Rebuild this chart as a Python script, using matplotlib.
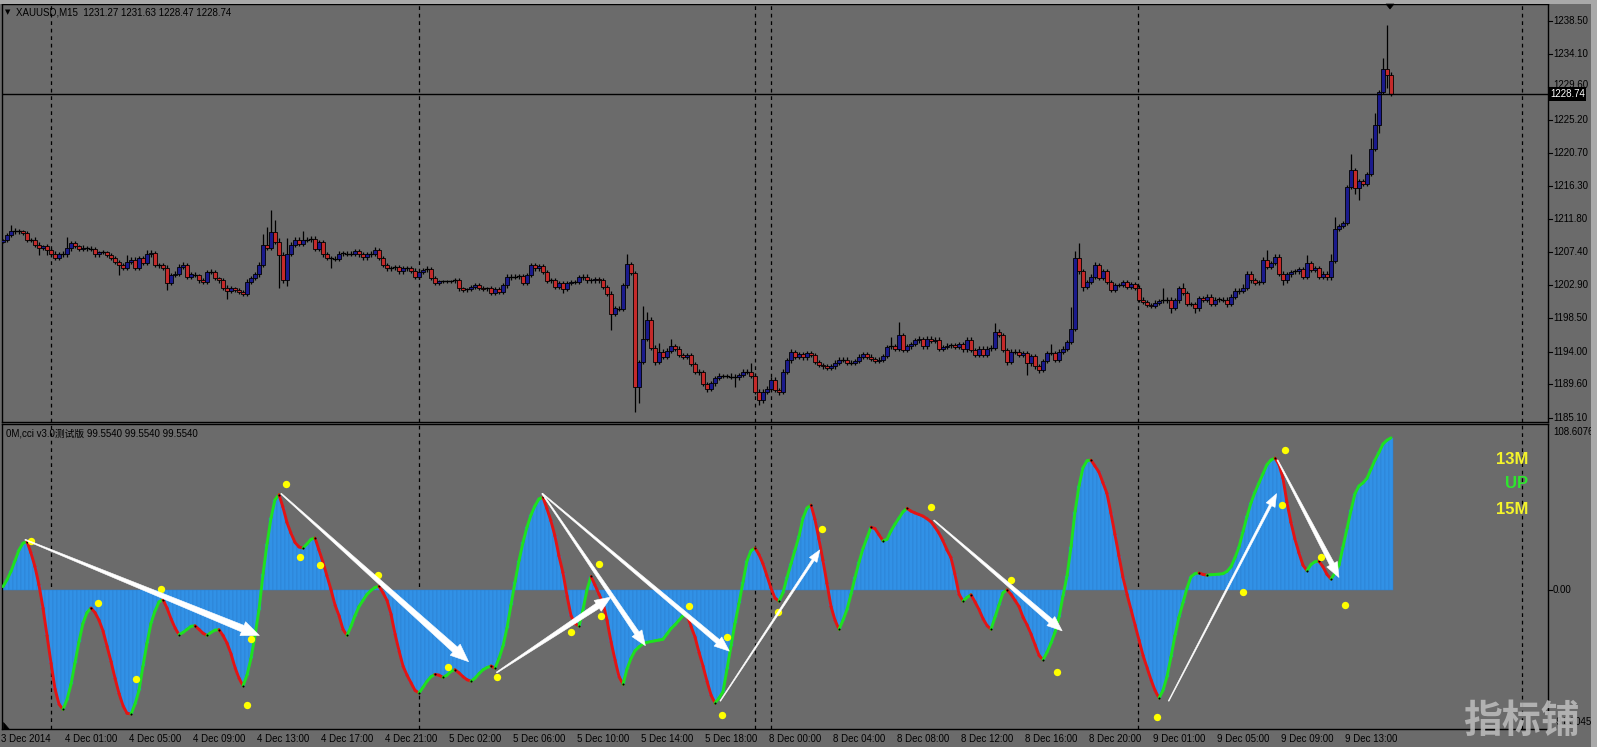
import numpy as np
import matplotlib
matplotlib.use('Agg')
import matplotlib.pyplot as plt
from matplotlib.patches import Rectangle, Polygon
from matplotlib.collections import LineCollection
from matplotlib.transforms import IdentityTransform, blended_transform_factory

# ---------------- data ----------------
OPEN0 = 1208.8
CLOSE = [
1209.0,1209.7,1210.3,1210.2,1210.2,1210.0,1209.0,1209.1,1208.4,1208.0,
1208.2,1207.7,1207.2,1206.6,1207.2,1207.1,1207.9,1208.6,1208.2,1207.8,
1208.0,1207.9,1207.8,1207.1,1207.4,1207.4,1207.0,1206.6,1206.1,1205.6,
1205.3,1206.1,1206.4,1205.3,1206.6,1205.9,1207.1,1207.3,1205.7,1205.6,
1205.3,1203.3,1204.3,1204.5,1205.4,1205.7,1204.1,1204.4,1204.3,1203.6,
1203.4,1204.7,1204.7,1203.9,1203.6,1202.6,1202.2,1202.5,1202.3,1202.0,
1201.8,1203.4,1203.9,1204.4,1205.7,1208.4,1208.0,1210.1,1208.8,1207.0,
1203.6,1207.2,1208.4,1209.0,1208.5,1209.0,1209.1,1209.2,1207.8,1208.8,
1207.1,1206.6,1206.6,1206.5,1207.2,1207.3,1207.2,1207.2,1207.5,1207.1,
1206.7,1207.1,1207.2,1207.7,1206.6,1205.7,1205.2,1205.3,1205.4,1204.8,
1205.2,1205.2,1204.9,1204.1,1204.7,1205.0,1205.1,1203.9,1203.3,1203.5,
1203.5,1203.5,1203.5,1203.6,1202.5,1202.3,1202.4,1202.7,1203.0,1202.6,
1202.4,1202.5,1201.9,1202.4,1202.0,1202.9,1204.0,1204.1,1204.1,1204.2,
1203.2,1204.3,1205.6,1205.2,1205.5,1204.7,1203.5,1203.6,1202.7,1203.2,
1202.4,1203.2,1203.4,1203.4,1204.0,1204.1,1203.6,1203.6,1203.8,1203.6,
1202.7,1201.8,1199.1,1199.8,1199.7,1202.9,1205.8,1204.6,1189.2,1192.6,
1195.7,1198.2,1194.5,1192.6,1194.0,1193.3,1194.1,1194.7,1194.4,1193.5,
1193.3,1193.5,1192.3,1191.3,1191.2,1189.6,1189.0,1189.7,1190.4,1190.7,
1190.7,1190.7,1190.6,1190.5,1190.8,1191.3,1191.3,1190.7,1188.6,1187.4,
1188.6,1189.0,1190.2,1188.8,1188.6,1191.3,1192.8,1193.9,1193.3,1193.6,
1193.2,1193.8,1193.5,1192.6,1192.2,1192.0,1191.8,1192.0,1192.5,1192.9,
1192.9,1192.5,1192.5,1192.7,1193.3,1193.6,1193.3,1193.0,1192.7,1192.9,
1193.4,1194.6,1194.7,1194.4,1196.2,1194.2,1194.7,1195.0,1195.5,1195.7,
1194.7,1195.7,1195.4,1195.6,1194.4,1194.6,1194.8,1194.9,1194.6,1195.0,
1194.3,1195.6,1194.2,1193.5,1194.4,1193.5,1194.4,1194.5,1196.6,1196.2,
1194.2,1192.6,1194.0,1194.0,1193.5,1193.8,1192.4,1193.4,1192.0,1191.5,
1192.7,1193.8,1193.8,1192.9,1194.0,1194.4,1195.3,1197.0,1206.6,1204.8,
1202.7,1203.4,1204.1,1205.7,1203.9,1204.8,1203.4,1202.3,1203.0,1203.0,
1203.4,1202.7,1203.1,1202.6,1201.0,1200.7,1200.3,1200.1,1200.6,1200.8,
1200.9,1201.0,1199.9,1200.9,1202.5,1201.9,1200.4,1200.4,1199.8,1201.2,
1201.0,1201.4,1200.4,1201.0,1201.1,1201.0,1200.4,1201.4,1202.1,1202.2,
1202.6,1204.5,1203.6,1203.3,1203.4,1206.4,1205.4,1205.9,1206.8,1204.5,
1203.6,1204.4,1204.7,1204.8,1205.1,1204.1,1205.9,1205.0,1205.2,1204.1,
1204.5,1204.0,1206.2,1210.5,1210.9,1211.3,1216.2,1218.5,1216.0,1217.0,
1216.6,1217.9,1221.3,1224.6,1229.0,1232.1,1231.27,1228.74]

UP_WICK = [
.2,.3,.7,.3,.3,.2,.3,.2,.3,.3,.2,.3,.3,.3,.2,.3,1.6,.3,.3,.2,
.3,.2,.3,.3,.2,.3,.2,.3,.3,.2,.3,.9,.3,.4,.3,.3,.6,.4,.3,.2,
.3,.3,.3,.3,.4,.4,.3,.3,.3,.2,.3,.3,.4,.3,.2,.3,.3,.3,.2,.3,
.3,.4,.3,.3,.4,1.4,2.4,3.0,1.6,.5,.4,2.1,.4,.5,.4,1.2,.4,.4,.4,.3,
.3,.3,.3,.3,.4,.3,.3,.3,.3,.3,.3,.3,.3,.4,.3,.3,.3,.2,.3,.3,
.3,.3,.3,.3,.3,.3,.4,.3,.3,.2,.2,.2,.2,.3,.3,.2,.2,.3,.3,.3,
.2,.2,.3,.3,.3,.3,.4,.4,.3,.3,.3,.3,.4,.3,.3,.3,.3,.3,.3,.3,
.3,.3,.3,.3,.3,.3,.3,.3,.3,.3,.3,.3,.3,.3,.3,.4,1.4,.3,.3,.3,
4.5,1.1,.4,.4,1.1,.4,.4,1.0,.3,.4,.3,.3,.3,.3,.3,.3,.3,.3,.3,.4,
.3,.3,.4,.4,.3,.3,.4,1.1,.4,.3,.3,.4,.4,.3,.3,.3,.3,.5,.3,.3,
.3,.3,.3,.3,.3,.3,.3,.3,.3,.3,.3,.3,.3,.3,.3,.3,.3,.3,.3,.3,
.3,.3,1.3,.3,1.8,.3,.3,.3,.3,.4,.3,.4,.4,.3,.3,.3,.3,.3,.3,.3,
.3,.3,.3,.3,.4,.3,.4,.4,1.2,.4,.3,.3,.3,.4,.3,.3,.3,.3,.3,.3,
.3,.3,1.2,.3,.3,.3,.3,3.0,.9,2.0,.3,.3,.3,.4,.3,.3,.3,.3,.3,.3,
.3,.3,.3,.3,.3,.3,.3,.3,.3,.3,1.6,.3,.3,.3,.3,.7,.3,.3,.3,.3,
.3,.3,.3,.3,.3,.3,.3,.3,.4,.4,.5,.4,.3,.3,.3,.4,1.3,.3,.4,.3,
.3,.3,.3,.3,.3,.3,1.1,.3,.3,.3,.3,.3,1.0,1.7,.3,.3,.3,2.1,.3,.3,
.3,.3,1.5,1.5,.3,1.4,5.9,.36]

DN_WICK = [
.2,.3,.3,.3,.3,.3,.3,.3,.3,1.0,.3,.7,.3,.3,.3,.3,.3,.3,.3,.3,
.3,.3,.3,.3,.3,.3,.3,.3,.3,1.3,.3,.3,.3,.3,.3,.3,.3,.3,.3,.3,
.3,1.0,.3,.3,.3,.3,.3,.3,.3,.3,.3,.3,.3,.3,.3,.3,1.1,.3,.3,.3,
.3,.3,.3,.3,.3,.3,.3,.3,.3,4.5,.3,.8,.3,.3,.3,.3,.3,.3,.3,.3,
.3,.3,1.4,.3,.3,.3,.3,.3,.3,.3,.3,.3,.3,.3,.3,.3,.3,.3,.3,.3,
.3,.3,.3,.3,.3,.3,.3,.3,.3,.3,.3,.3,.3,.3,.3,.3,.3,.3,.3,.3,
.3,.3,.3,.3,.3,.3,.3,.3,.3,.3,.3,.3,.3,.3,.3,.3,.3,.3,.3,.3,
.5,.3,.3,.3,.3,.3,.3,.3,.3,.3,.3,.3,2.2,.3,.3,.3,.3,.3,3.3,2.2,
.3,.3,.3,.4,.3,.3,.3,.3,.3,.3,.3,.3,.3,.3,.3,.3,.4,.3,.3,.3,
.3,.3,.3,1.3,.3,.3,.3,.3,.3,.6,.3,.3,.3,.3,.5,.3,.3,.3,.3,.3,
.3,.3,.3,.3,.3,.3,.3,.3,.3,.3,.3,.3,.3,.3,.3,.3,.3,.3,.3,.3,
.3,.3,.3,.3,.3,.3,.3,.3,.3,.3,.3,.3,.3,.3,.3,.3,.3,.3,.3,.3,
.3,.3,.3,.3,.3,.3,.3,.3,.3,.3,.3,.4,.3,.3,.3,.3,1.6,.3,.3,.4,
.3,.3,.3,.3,.3,.3,.3,.3,.3,.3,.6,.3,.3,.3,.3,.3,.3,.3,.3,.3,
.3,.3,.3,.3,.3,.3,.3,.3,.3,.3,.3,.3,.7,.3,.3,.3,.3,.3,.6,.3,
.3,.3,.3,.3,.3,.3,.4,.3,.3,.3,.3,.3,.3,.3,.3,.3,.3,.3,.3,.3,
.6,.3,.3,.3,.3,.3,.3,.3,.3,.3,.3,.3,.3,.2,.3,.3,.3,.3,.7,1.6,
.3,.3,.3,.3,1.1,.3,1.8,.27]

CCI = [
2.0,6.5,12,19,26,30.5,31.5,24,15,3,
-12,-30,-48,-65,-75,-78.5,-72,-62,-48,-34,
-22,-15,-12,-15,-20,-27,-37,-47,-58,-68,
-76,-81,-81.5,-75,-66,-50,-35,-22,-14,-8,
-6.5,-12,-19,-25,-29.5,-28,-26,-24,-23.6,-26,
-28.5,-30,-28,-26.5,-26.2,-30,-35,-42,-51,-58,
-63,-56,-45,-30,-13,10,30,47,59,62.3,
54,44,37,31,28,27.3,30,33.0,33.9,26,
18,9,0,-10,-17,-26,-30,-24,-17,-11,
-7,-3,-0.5,1.5,2.2,-2,-7,-16,-29,-40,
-50,-56,-61,-66,-67.7,-64,-60,-57,-55.5,-56,
-57.5,-56,-53.5,-52.4,-54.5,-57,-59,-60,-58,-55,
-52.5,-51,-50,-51.5,-45,-37,-25,-10,5,19,
31,41,49,55,59.5,60.5,53,45,35,22,
11,-4,-17,-22,-24,-13,0,8.7,3,-3,
-8.5,-20,-34,-46,-57,-62,-52,-45,-40,-37.5,
-35.5,-34.5,-34,-33.5,-33,-32.5,-29,-25.5,-23,-20,
-17,-16.5,-24,-31,-41,-50,-60,-69,-74.3,-71,
-67,-52,-37,-22,-9,5,19,25.5,27.3,23,
17,9,1,-5.5,-7.5,-2,8,17,26,35,
47,53.5,55.5,46,33,19,4,-11,-20,-26,
-20,-13,-3,8,18,27,34,41,40,36,
32,33,38.5,43,47,51,53.3,51.5,50.3,49.3,
48.2,46.5,44.5,41,37,32,26,21,10,-3,
-7.5,-5,-3.3,-8,-13,-19,-23.5,-26,-18,-10,
-2,0,-3,-7,-11,-18,-23,-29,-36,-43,
-46,-41,-35,-28,-18,-4,9,28,51,68,
80,84.5,85,81,77,70,63,50,36,22,
8,-3,-13,-23,-33,-43,-51,-59,-66,-71,
-66,-57,-44,-30,-18,-8.5,1,8.5,10.5,11,
10,9.5,9.8,10,10.2,10.5,12,15,21,28,
38,48,57,64,70,76,82,85,86.3,82,
73,57,44,33,24,16,12.5,16.5,18.3,18.6,
15,10,7,11,16,28,40,52,63,68,
70,73,79,85,90,95.5,98,99.554]

DOT_BAR = [7.1,23.8,39.6,33.2,62.0,60.9,70.7,74.2,79.2,93.8,111.3,123.4,149.1,149.5,142.1,
           171.6,181.0,179.8,193.7,204.8,232.0,252.0,263.6,288.4,310.1,320.6,319.7,329.4,335.4]
DOT_VAL = [32.1,-8.5,0.3,-58.3,-32.0,-75.6,69.2,21.3,16.0,9.5,-50.8,-57.0,17.0,-17.3,-27.7,
           -11.0,-30.7,-82.2,-14.6,39.9,53.9,6.6,-54.2,-83.6,-1.6,91.3,55.8,21.2,-10.3]

ARROW_FROM_BAR = [5.5, 69.5, 123.4, 134.8, 134.8, 179.3, 232.7, 291.4, 318.6]
ARROW_FROM_VAL = [32.8, 63.0, -54.3, 63.0, 63.0, -73.0, 45.5, -73.0, 85.0]
ARROW_TO_BAR   = [64.1, 116.4, 152.0, 160.6, 181.6, 204.2, 264.8, 318.4, 334.0]
ARROW_TO_VAL   = [-30.0, -47.2, -4.8, -36.7, -40.3, 26.1, -27.0, 63.0, 8.0]

PRICE_TICKS = [1238.50, 1234.10, 1229.60, 1225.20, 1220.70, 1216.30, 1211.80,
               1207.40, 1202.90, 1198.50, 1194.00, 1189.60, 1185.10]
LAST_PRICE = 1228.74
DATE_LABELS = ["3 Dec 2014", "4 Dec 01:00", "4 Dec 05:00", "4 Dec 09:00", "4 Dec 13:00",
               "4 Dec 17:00", "4 Dec 21:00", "5 Dec 02:00", "5 Dec 06:00", "5 Dec 10:00",
               "5 Dec 14:00", "5 Dec 18:00", "8 Dec 00:00", "8 Dec 04:00", "8 Dec 08:00",
               "8 Dec 12:00", "8 Dec 16:00", "8 Dec 20:00", "9 Dec 01:00", "9 Dec 05:00",
               "9 Dec 09:00", "9 Dec 13:00"]
DAY_SEPARATORS = [12, 104, 188, 192, 283.75, 379.75]
IND_MAX = 108.6076
IND_MIN = -91.3045
TITLE = "XAUUSD,M15  1231.27 1231.63 1228.47 1228.74"
IND_TITLE = "0M,cci v3.0测试版 99.5540 99.5540 99.5540"

# ---------------- styling / layout ----------------
W, H = 1597, 747
BG = '#6b6b6b'
FONT = ['Liberation Sans', 'Noto Sans CJK SC', 'DejaVu Sans']
plt.rcParams['font.family'] = FONT

fig = plt.figure(figsize=(W / 100, H / 100), dpi=100, facecolor=BG)

def rect(x0, y0, x1, y1):
    return [x0 / W, 1 - y1 / H, (x1 - x0) / W, (y1 - y0) / H]

ax1 = fig.add_axes(rect(2, 4, 1548, 422))
ax2 = fig.add_axes(rect(2, 424, 1548, 729))
XL = (-0.25, 386.25)
for ax in (ax1, ax2):
    ax.set_facecolor(BG)
    ax.set_xlim(*XL)
    ax.set_xticks([]); ax.set_yticks([])
    for s in ax.spines.values():
        s.set_color('black'); s.set_linewidth(1.0)

# window frame strips
fig.add_artist(Rectangle((0, 1 - 4 / H), 1, 4 / H, transform=fig.transFigure,
                         fc='#a9a9a9', ec='none'))
fig.add_artist(Rectangle((1591 / W, 0), 6 / W, 1, transform=fig.transFigure,
                         fc='#a9a9a9', ec='none'))

# ---------------- price panel ----------------
n = len(CLOSE)
idx = np.arange(n)
close = np.array(CLOSE)
opens = np.concatenate([[OPEN0], close[:-1]])
top = np.maximum(opens, close)
bot = np.minimum(opens, close)
highs = top + np.array(UP_WICK)
lows = bot - np.array(DN_WICK)

ax1.set_ylim(1184.50, 1240.845)
ax1.vlines(idx, lows, highs, color='black', lw=0.9, zorder=3)
for i in range(n):
    h = top[i] - bot[i]
    if h < 0.12:
        ax1.plot([i - 0.4, i + 0.4], [close[i], close[i]], color='black', lw=0.9, zorder=4)
    else:
        fc = '#1a1a8c' if close[i] > opens[i] else '#c42a2a'
        ax1.add_patch(Rectangle((i - 0.38, bot[i]), 0.76, h, fc=fc, ec='black', lw=0.6, zorder=4))

ax1.axhline(LAST_PRICE, color='black', lw=1.0, zorder=5)
for ax in (ax1, ax2):
    for d in DAY_SEPARATORS:
        ax.axvline(d, color='black', lw=0.9, ls=(0, (3, 3)), zorder=2)

tb1 = blended_transform_factory(ax1.transAxes, ax1.transData)
for p in PRICE_TICKS:
    ax1.plot([1.0, 1.0026], [p, p], color='black', lw=0.8, transform=tb1, clip_on=False)
    # label partly hidden behind the last-price box, as in the original
    yoff = 0.35 if abs(p - LAST_PRICE) < 1.5 else 0.0
    ax1.text(1.0033, p + yoff, f"{p:.2f}", transform=tb1, fontsize=7, va='center', ha='left',
             color='black', clip_on=False)
ax1.text(1.0012, LAST_PRICE, f"{LAST_PRICE:.2f}", transform=tb1, fontsize=7, va='center',
         ha='left', color='white', clip_on=False, zorder=10,
         bbox=dict(boxstyle='square,pad=0.18', fc='black', ec='none'))

fig.text(16 / W, 1 - 12.5 / H, TITLE, fontsize=7, va='center', ha='left', color='black')
fig.text(5 / W, 1 - 12 / H, '▼', fontsize=5, va='center', ha='left', color='black',
         family='DejaVu Sans')
fig.add_artist(Polygon([(1386, H - 4), (1394, H - 4), (1390, H - 9)], closed=True,
                       transform=IdentityTransform(), fc='black', ec='black', lw=0.5))

# ---------------- indicator panel ----------------
v = np.array(CCI)
ax2.set_ylim(IND_MIN, IND_MAX)
ax2.bar(idx, v, width=1.0, color='#3191e6', edgecolor='#2b7fcf', linewidth=0.35, zorder=2)

segs = [[(i - 1, v[i - 1]), (i, v[i])] for i in range(1, n)]
cols = ['#1fe01f' if v[i] >= v[i - 1] else '#e31414' for i in range(1, n)]
ax2.add_collection(LineCollection(segs, colors=cols, linewidths=2.1, zorder=4,
                                  capstyle='round'))
d = np.diff(v)
turn = [i for i in range(1, n - 1) if np.sign(d[i - 1]) != np.sign(d[i])]
ax2.scatter(turn, v[turn], s=2.2, color='black', marker='o', zorder=5, linewidths=0)

ax2.scatter(DOT_BAR, DOT_VAL, s=28, color='#ffff00', zorder=6, linewidths=0)

def arrow_poly(p0, p1, w0, w1, hw, hl):
    p0 = np.asarray(p0, float); p1 = np.asarray(p1, float)
    dv = p1 - p0; L = np.hypot(*dv); u = dv / L; nn = np.array([-u[1], u[0]])
    base = p1 - u * hl
    return [p0 + nn * w0 / 2, base + nn * w1 / 2, base + nn * hw / 2, p1,
            base - nn * hw / 2, base - nn * w1 / 2, p0 - nn * w0 / 2]

ARROW_STYLE = [(1, 7, 15, 18), (1, 7, 15, 18), (1, 6, 13, 16), (1, 5, 12, 15), (1, 5, 12, 15),
               (0.8, 2.5, 9, 12), (1, 5, 12, 15), (0.8, 2.5, 10, 13), (1, 5, 12, 15)]
for k in range(len(ARROW_FROM_BAR)):
    a = ax2.transData.transform((ARROW_FROM_BAR[k], ARROW_FROM_VAL[k]))
    b = ax2.transData.transform((ARROW_TO_BAR[k], ARROW_TO_VAL[k]))
    w0, w1, hw, hl = ARROW_STYLE[k]
    ax2.add_patch(Polygon(arrow_poly(a, b, w0, w1, hw, hl), closed=True,
                          transform=IdentityTransform(), fc='white', ec='white',
                          lw=0.4, zorder=7))

tb2 = blended_transform_factory(ax2.transAxes, ax2.transData)
ax2.text(1.0033, IND_MAX - 5.5, f"{IND_MAX:.4f}", transform=tb2, fontsize=7, va='center',
         ha='left', clip_on=False)
ax2.plot([1.0, 1.0026], [0, 0], color='black', lw=0.8, transform=tb2, clip_on=False)
ax2.text(1.0033, 0, "0.00", transform=tb2, fontsize=7, va='center', ha='left', clip_on=False)
ax2.text(1.0033, IND_MIN + 4.5, f"{IND_MIN:.4f}", transform=tb2, fontsize=7, va='center',
         ha='left', clip_on=False)

fig.text(6 / W, 1 - 434 / H, IND_TITLE, fontsize=7, va='center', ha='left', color='black',
         family=FONT)

fig.text(1528 / W, 1 - 460 / H, '13M', fontsize=12, weight='bold', color='#f5f52a',
         ha='right', va='center')
fig.text(1528 / W, 1 - 484 / H, 'UP', fontsize=12, weight='bold', color='#2ee62e',
         ha='right', va='center')
fig.text(1528 / W, 1 - 509 / H, '15M', fontsize=12, weight='bold', color='#f5f52a',
         ha='right', va='center')

# date axis
tb3 = blended_transform_factory(ax2.transData, ax2.transAxes)
for k, lab in enumerate(DATE_LABELS):
    ax2.text(16 * k - 0.5, -0.034, lab, transform=tb3, fontsize=7, va='center', ha='left',
             clip_on=False)

fig.add_artist(Polygon([(3, H - 722), (3, H - 729), (9, H - 729)], closed=True,
                       transform=IdentityTransform(), fc='black', ec='black', lw=0.5))

fig.text(1521 / W, 1 - 721 / H, '指标铺', fontsize=28, weight='bold', color='#b9b9b9',
         alpha=0.9, ha='center', va='center', family=['Noto Sans CJK SC'])

fig.savefig('out.png', dpi=100, facecolor=BG)
